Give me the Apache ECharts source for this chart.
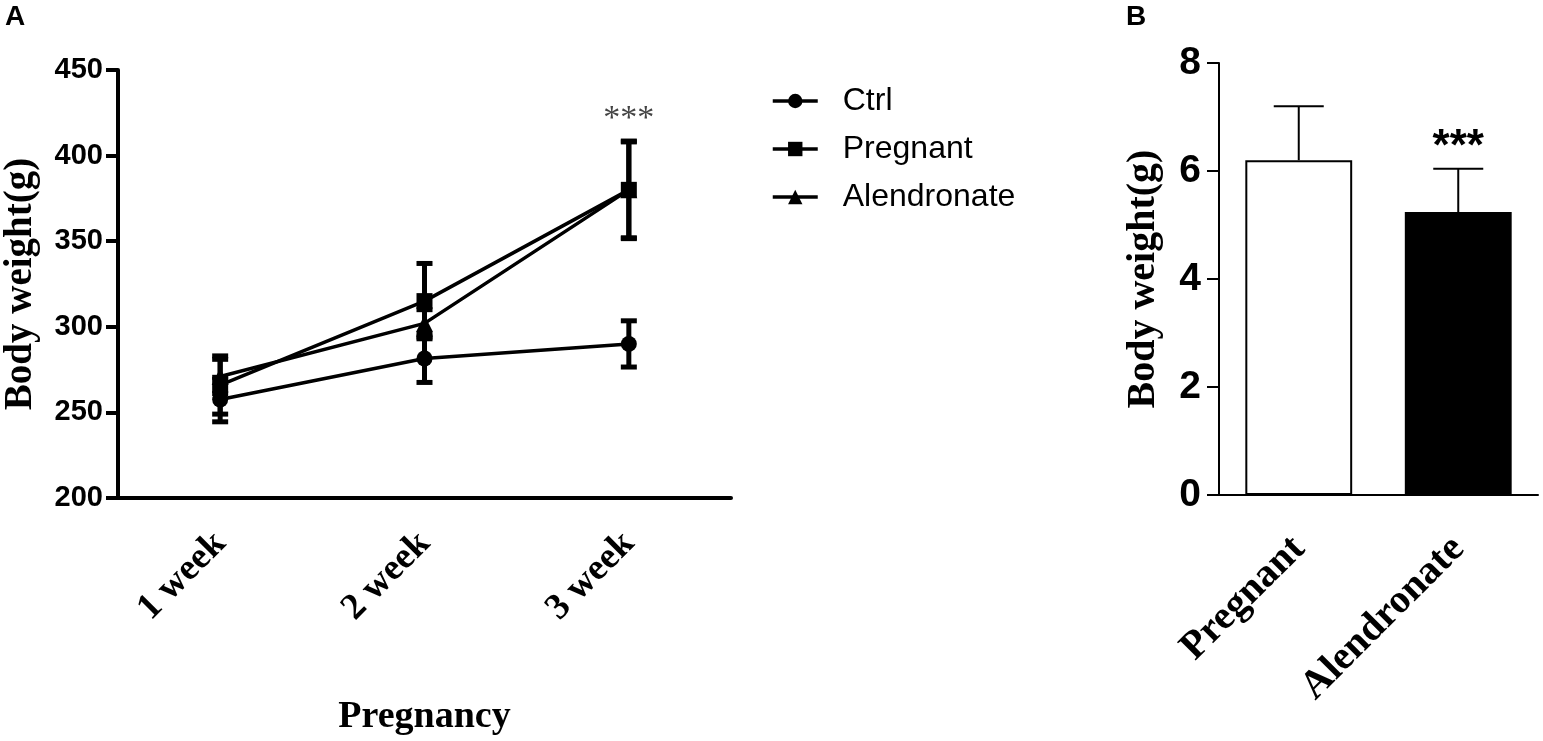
<!DOCTYPE html>
<html>
<head>
<meta charset="utf-8">
<script src="https://cdn.jsdelivr.net/npm/echarts@6/dist/echarts.min.js"></script>
<style>
html, body { margin: 0; padding: 0; background: #fff; }
#chart { width: 1543px; height: 741px; }
</style>
</head>
<body>
<div id="chart"></div>
<script>
// panel A: body weight during pregnancy (mean, sd)
var weeks = ['1 week', '2 week', '3 week'];
var ctrlMean = [257.5, 281.5, 290];
var ctrlSd = [13, 14, 13.5];
var pregMean = [266, 315, 380];
var pregSd = [17, 22, 28.5];
var alenMean = [271, 302, 380];
var alenSd = [10, 8, 28];
var starA = [[2, 421.5]];

// panel B: body weight per group
var groups = ['Pregnant', 'Alendronate'];
var groupMean = [6.2, 5.24];
var groupSd = [1.0, 0.8];
var starB = [[1, 6.42]];

var serif = 'Liberation Serif';
var sans = 'Liberation Sans';

function toErr(mean, sd) {
	var out = [];
	for (var i = 0; i < mean.length; i++) {
		out.push([i, mean[i], sd[i]]);
	}
	return out;
}

/* error bar drawer
* capHalf half width of cap, lineW stem width, upOnly only draw upper half
*/
function errorBar(capHalf, lineW, capW, upOnly) {
	return function (params, api) {
		var x = api.value(0), m = api.value(1), s = api.value(2);
		var hi = api.coord([x, m + s]);
		var lo = api.coord([x, upOnly ? m : m - s]);
		var kids = [
			{ type: 'line', shape: { x1: hi[0], y1: hi[1], x2: lo[0], y2: lo[1] }, style: { stroke: '#000', lineWidth: lineW } },
			{ type: 'line', shape: { x1: hi[0] - capHalf, y1: hi[1], x2: hi[0] + capHalf, y2: hi[1] }, style: { stroke: '#000', lineWidth: capW } }
		];
		if (!upOnly) {
			kids.push({ type: 'line', shape: { x1: lo[0] - capHalf, y1: lo[1], x2: lo[0] + capHalf, y2: lo[1] }, style: { stroke: '#000', lineWidth: capW } });
		}
		return { type: 'group', children: kids };
	};
}

function starText(font, color) {
	return function (params, api) {
		var p = api.coord([api.value(0), api.value(1)]);
		return {
			type: 'text', x: p[0], y: p[1],
			style: { text: '***', font: font, fill: color, align: 'center', verticalAlign: 'middle' }
		};
	};
}

var chart = echarts.init(document.getElementById('chart'));

var option = {
	backgroundColor: '#fff',
	animation: false,
	graphic: [
		{ type: 'text', left: 5, top: 3, style: { text: 'A', font: 'bold 28px ' + sans, fill: '#000' } },
		{ type: 'text', left: 1126, top: 3, style: { text: 'B', font: 'bold 28px ' + sans, fill: '#000' } }
	],
	legend: {
		orient: 'vertical',
		left: 766,
		top: 80,
		itemWidth: 45,
		itemHeight: 18,
		itemGap: 16,
		data: ['Ctrl', 'Pregnant', 'Alendronate'],
		lineStyle: { width: 3.5 },
		textStyle: { fontFamily: sans, fontSize: 32, color: '#000', padding: [0, 0, 0, 20] }
	},
	grid: [
		{ left: 116, top: 70, width: 615, height: 429 },
		{ left: 1219, top: 63, width: 319, height: 432 }
	],
	xAxis: [
		{
			type: 'category',
			gridIndex: 0,
			data: weeks,
			boundaryGap: true,
			axisLine: { lineStyle: { color: '#000', width: 4 } },
			axisTick: { alignWithLabel: true, length: 13, lineStyle: { color: '#000', width: 4 } },
			axisLabel: { rotate: 45, margin: 40, color: '#000', fontFamily: serif, fontWeight: 'bold', fontSize: 37 },
			name: 'Pregnancy',
			nameLocation: 'middle',
			nameGap: 200,
			nameTextStyle: { color: '#000', fontFamily: serif, fontWeight: 'bold', fontSize: 38 }
		},
		{
			type: 'category',
			gridIndex: 1,
			data: groups,
			boundaryGap: true,
			axisLine: { lineStyle: { color: '#000', width: 2 } },
			axisTick: { alignWithLabel: true, length: 15, lineStyle: { color: '#000', width: 2 } },
			axisLabel: { rotate: 45, margin: 48, color: '#000', fontFamily: serif, fontWeight: 'bold', fontSize: 40 }
		}
	],
	yAxis: [
		{
			type: 'value',
			gridIndex: 0,
			min: 200,
			max: 450,
			interval: 50,
			splitLine: { show: false },
			axisLine: { show: true, lineStyle: { color: '#000', width: 4 } },
			axisTick: { show: true, length: 12, lineStyle: { color: '#000', width: 4 } },
			axisLabel: { margin: 15, color: '#000', fontFamily: sans, fontWeight: 'bold', fontSize: 29 },
			name: 'Body weight(g)',
			nameLocation: 'middle',
			nameGap: 78,
			nameTextStyle: { color: '#000', fontFamily: serif, fontWeight: 'bold', fontSize: 39 }
		},
		{
			type: 'value',
			gridIndex: 1,
			min: 0,
			max: 8,
			interval: 2,
			splitLine: { show: false },
			axisLine: { show: true, lineStyle: { color: '#000', width: 2 } },
			axisTick: { show: true, length: 12, lineStyle: { color: '#000', width: 2 } },
			axisLabel: { margin: 18, color: '#000', fontFamily: sans, fontWeight: 'bold', fontSize: 39 },
			name: 'Body weight(g)',
			nameLocation: 'middle',
			nameGap: 55,
			nameTextStyle: { color: '#000', fontFamily: serif, fontWeight: 'bold', fontSize: 40 }
		}
	],
	series: [
		// error bars A
		{ type: 'custom', xAxisIndex: 0, yAxisIndex: 0, renderItem: errorBar(8, 5, 5, false), data: toErr(ctrlMean, ctrlSd), z: 2 },
		{ type: 'custom', xAxisIndex: 0, yAxisIndex: 0, renderItem: errorBar(8, 5, 5, false), data: toErr(pregMean, pregSd), z: 2 },
		{ type: 'custom', xAxisIndex: 0, yAxisIndex: 0, renderItem: errorBar(8, 5, 5, false), data: toErr(alenMean, alenSd), z: 2 },
		{
			name: 'Ctrl', type: 'line', xAxisIndex: 0, yAxisIndex: 0, data: ctrlMean,
			symbol: 'circle', symbolSize: 16, color: '#000',
			lineStyle: { color: '#000', width: 3.5 }, itemStyle: { color: '#000' }, z: 3
		},
		{
			name: 'Pregnant', type: 'line', xAxisIndex: 0, yAxisIndex: 0, data: pregMean,
			symbol: 'rect', symbolSize: 16, color: '#000',
			lineStyle: { color: '#000', width: 3.5 }, itemStyle: { color: '#000' }, z: 3
		},
		{
			name: 'Alendronate', type: 'line', xAxisIndex: 0, yAxisIndex: 0, data: alenMean,
			symbol: 'triangle', symbolSize: 17, color: '#000',
			lineStyle: { color: '#000', width: 3.5 }, itemStyle: { color: '#000' }, z: 3
		},
		{ type: 'custom', xAxisIndex: 0, yAxisIndex: 0, renderItem: starText('34px ' + serif, '#444'), data: starA, z: 4 },
		// panel B
		{
			type: 'bar', xAxisIndex: 1, yAxisIndex: 1, barWidth: '67%',
			data: [
				{ value: groupMean[0], itemStyle: { color: '#fff', borderColor: '#000', borderWidth: 2 } },
				{ value: groupMean[1], itemStyle: { color: '#000', borderColor: '#000', borderWidth: 2 } }
			],
			z: 2
		},
		{ type: 'custom', xAxisIndex: 1, yAxisIndex: 1, renderItem: errorBar(25, 2, 2, true), data: toErr(groupMean, groupSd), z: 3 },
		{ type: 'custom', xAxisIndex: 1, yAxisIndex: 1, renderItem: starText('bold 44px ' + sans, '#000'), data: starB, z: 4 }
	]
};

chart.setOption(option);
</script>
</body>
</html>
